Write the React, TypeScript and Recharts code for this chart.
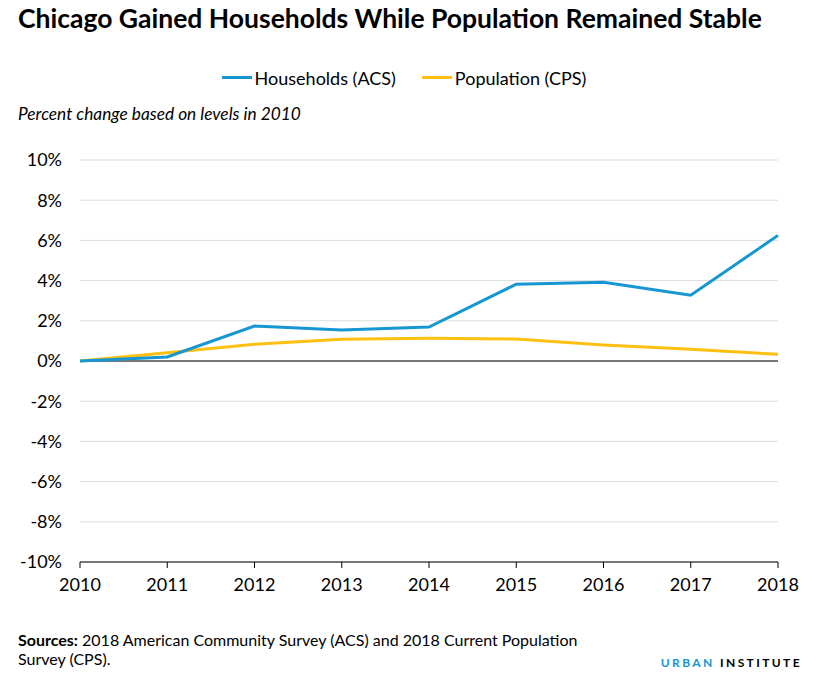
import React from "react";
import {
  LineChart,
  Line,
  XAxis,
  YAxis,
  CartesianGrid,
  ReferenceLine,
} from "recharts";

const years = ["2010", "2011", "2012", "2013", "2014", "2015", "2016", "2017", "2018"];
const households = [0, 0.2, 1.74, 1.54, 1.69, 3.82, 3.92, 3.27, 6.25];
const population = [0, 0.41, 0.83, 1.08, 1.13, 1.09, 0.79, 0.58, 0.33];
const yTicks = [-10, -8, -6, -4, -2, 0, 2, 4, 6, 8, 10];

const data = years.map((year, i) => ({
  year,
  households: households[i],
  population: population[i],
}));

const BLUE = "#1696d2";
const YELLOW = "#fdbf11";
const FONT = "Lato, 'Open Sans', sans-serif";

function LegendItem({ color, label }: { color: string; label: string }) {
  return (
    <span style={{ display: "inline-flex", alignItems: "center", margin: "0 13px" }}>
      <span style={{ display: "inline-block", width: 30, height: 3, background: color, marginRight: 3 }} />
      <span>{label}</span>
    </span>
  );
}

export default function App() {
  return (
    <div
      style={{
        position: "absolute",
        left: 0,
        top: 0,
        width: 828,
        height: 687,
        background: "#fff",
        fontFamily: FONT,
        color: "#000",
      }}
    >
      <div style={{ position: "absolute", left: 18, top: 2, fontSize: 26.5, fontWeight: 700, whiteSpace: "nowrap" }}>
        Chicago Gained Households While Population Remained Stable
      </div>
      <div style={{ position: "absolute", left: 0, width: 808, top: 61, textAlign: "center", fontSize: 18, whiteSpace: "nowrap" }}>
        <LegendItem color={BLUE} label="Households (ACS)" />
        <LegendItem color={YELLOW} label="Population (CPS)" />
      </div>
      <div style={{ position: "absolute", left: 18, top: 103, fontSize: 17.3, fontStyle: "italic", whiteSpace: "nowrap" }}>
        Percent change based on levels in 2010
      </div>

      <div style={{ position: "absolute", left: 0, top: 0 }}>
        <LineChart
          width={828}
          height={687}
          data={data}
          margin={{ top: 160, right: 50, left: 0, bottom: 95 }}
        >
          <CartesianGrid vertical={false} stroke="#dedddd" strokeWidth={1} />
          <XAxis
            dataKey="year"
            height={30}
            stroke="#000"
            tickSize={6}
            tickMargin={10}
            tick={{ fill: "#000", fontSize: 18, fontFamily: FONT }}
            interval={0}
          />
          <YAxis
            width={80}
            domain={[-10, 10]}
            ticks={yTicks}
            axisLine={false}
            tickLine={false}
            tickSize={0}
            tickMargin={18}
            tickFormatter={(v: number) => `${v}%`}
            tick={{ fill: "#000", fontSize: 18, fontFamily: FONT }}
            interval={0}
          />
          <ReferenceLine y={0} stroke="#000" strokeWidth={1} />
          <Line
            type="linear"
            dataKey="population"
            stroke={YELLOW}
            strokeWidth={3}
            dot={false}
            isAnimationActive={false}
          />
          <Line
            type="linear"
            dataKey="households"
            stroke={BLUE}
            strokeWidth={3}
            dot={false}
            isAnimationActive={false}
          />
        </LineChart>
      </div>

      <div style={{ position: "absolute", left: 18, top: 630, fontSize: 16, lineHeight: "19px", width: 640 }}>
        <b>Sources:</b> 2018 American Community Survey (ACS) and 2018 Current Population
        <br />
        Survey (CPS).
      </div>
      <div
        style={{
          position: "absolute",
          right: 26,
          top: 655,
          fontSize: 12,
          fontWeight: 700,
          letterSpacing: 2.4,
          whiteSpace: "nowrap",
        }}
      >
        <span style={{ color: BLUE }}>URBAN</span> <span style={{ color: "#000" }}>INSTITUTE</span>
      </div>
    </div>
  );
}
